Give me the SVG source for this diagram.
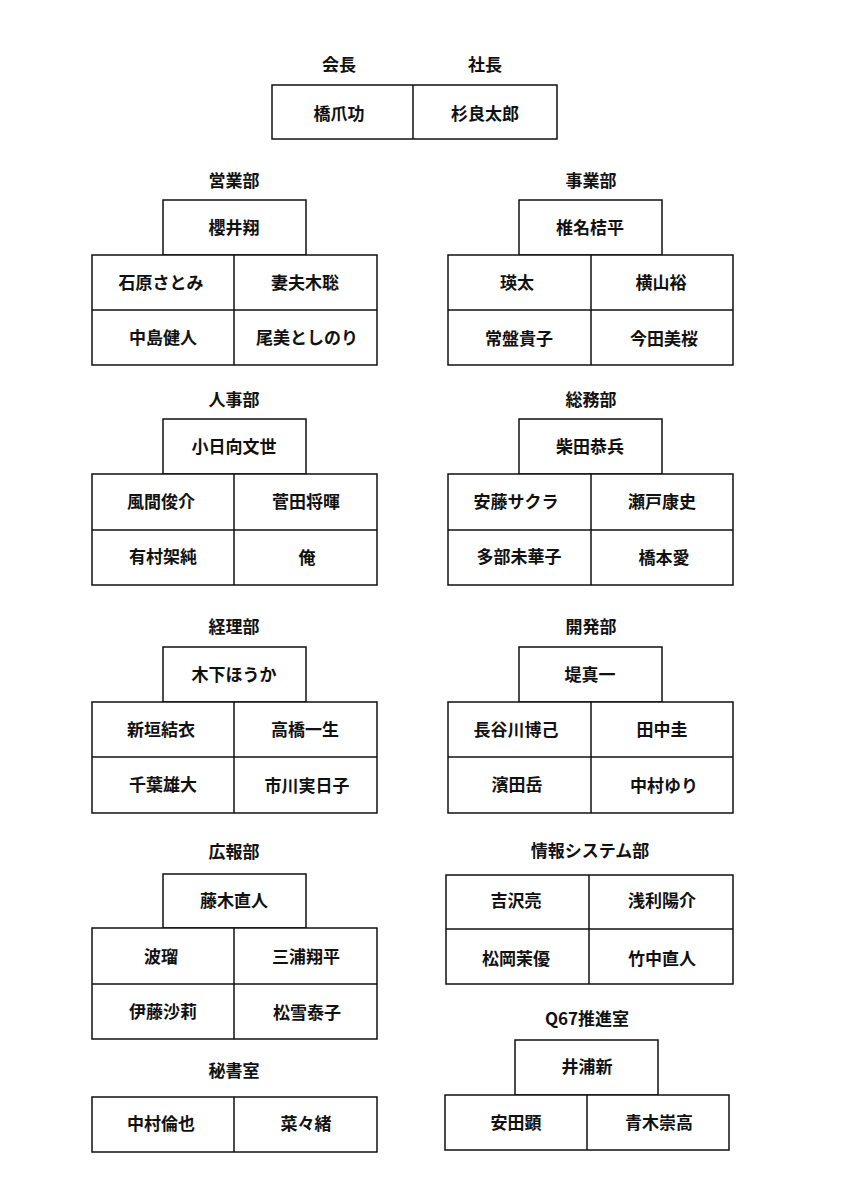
<svg xmlns="http://www.w3.org/2000/svg" width="849" height="1200" viewBox="0 0 849 1200">
<style>
rect{fill:#fff;stroke:#111;stroke-width:1.5}
line{stroke:#111;stroke-width:1.5}
text{font-family:"Noto Sans CJK JP","Noto Sans",sans-serif;font-weight:bold;font-size:17px;fill:#111;text-anchor:middle;dominant-baseline:central}
</style>
<rect width="849" height="1200" style="fill:#fff;stroke:none"/>
<g id="top" transform="translate(0,-1)">
<text x="339" y="64">会長</text><text x="485" y="64">社長</text>
<rect x="272" y="86" width="285" height="54"/><line x1="413" y1="86" x2="413" y2="140"/>
<text x="339" y="113">橋爪功</text><text x="485" y="113">杉良太郎</text>
</g>
<g id="eigyo">
<text x="234" y="179">営業部</text>
<rect x="163" y="200" width="143" height="55"/><text x="234" y="226">櫻井翔</text>
<rect x="92" y="255" width="285" height="110"/><line x1="92" y1="310" x2="377" y2="310"/><line x1="234" y1="255" x2="234" y2="365"/>
<text x="161" y="281">石原さとみ</text><text x="305" y="281">妻夫木聡</text>
<text x="163" y="336">中島健人</text><text x="307" y="336">尾美としのり</text>
</g>
<g id="jigyo">
<text x="591" y="179">事業部</text>
<rect x="519" y="200" width="143" height="55"/><text x="590" y="226">椎名桔平</text>
<rect x="448" y="255" width="285" height="110"/><line x1="448" y1="310" x2="733" y2="310"/><line x1="591" y1="255" x2="591" y2="365"/>
<text x="517" y="281">瑛太</text><text x="661" y="281">横山裕</text>
<text x="519" y="337">常盤貴子</text><text x="664" y="337">今田美桜</text>
</g>
<g id="jinji">
<text x="234" y="398">人事部</text>
<rect x="163" y="419" width="143" height="55"/><text x="234" y="445">小日向文世</text>
<rect x="92" y="474" width="285" height="111"/><line x1="92" y1="530" x2="377" y2="530"/><line x1="234" y1="474" x2="234" y2="585"/>
<text x="161" y="500">風間俊介</text><text x="306" y="500">菅田将暉</text>
<text x="163" y="555">有村架純</text><text x="307" y="556">俺</text>
</g>
<g id="somu">
<text x="591" y="398">総務部</text>
<rect x="519" y="419" width="143" height="55"/><text x="590" y="445">柴田恭兵</text>
<rect x="448" y="474" width="285" height="111"/><line x1="448" y1="530" x2="733" y2="530"/><line x1="591" y1="474" x2="591" y2="585"/>
<text x="516" y="500">安藤サクラ</text><text x="662" y="500">瀬戸康史</text>
<text x="519" y="555">多部未華子</text><text x="664" y="556">橋本愛</text>
</g>
<g id="keiri">
<text x="234" y="625">経理部</text>
<rect x="163" y="647" width="143" height="55"/><text x="234" y="673">木下ほうか</text>
<rect x="92" y="702" width="285" height="111"/><line x1="92" y1="757" x2="377" y2="757"/><line x1="234" y1="702" x2="234" y2="813"/>
<text x="161" y="728">新垣結衣</text><text x="305" y="728">高橋一生</text>
<text x="163" y="783">千葉雄大</text><text x="307" y="784">市川実日子</text>
</g>
<g id="kaihatsu">
<text x="591" y="625">開発部</text>
<rect x="519" y="647" width="143" height="55"/><text x="590" y="673">堤真一</text>
<rect x="448" y="702" width="285" height="111"/><line x1="448" y1="757" x2="733" y2="757"/><line x1="591" y1="702" x2="591" y2="813"/>
<text x="516" y="728">長谷川博己</text><text x="662" y="728">田中圭</text>
<text x="517" y="783">濱田岳</text><text x="664" y="784">中村ゆり</text>
</g>
<g id="koho">
<text x="234" y="850">広報部</text>
<rect x="163" y="874" width="143" height="54"/><text x="234" y="899">藤木直人</text>
<rect x="92" y="928" width="285" height="111"/><line x1="92" y1="984" x2="377" y2="984"/><line x1="234" y1="928" x2="234" y2="1039"/>
<text x="161" y="955">波瑠</text><text x="306" y="955">三浦翔平</text>
<text x="163" y="1010">伊藤沙莉</text><text x="307" y="1011">松雪泰子</text>
</g>
<g id="joho">
<text x="590" y="849">情報システム部</text>
<rect x="446" y="875" width="287" height="109"/><line x1="446" y1="929" x2="733" y2="929"/><line x1="589" y1="875" x2="589" y2="984"/>
<text x="516" y="899">吉沢亮</text><text x="662" y="899">浅利陽介</text>
<text x="516" y="957">松岡茉優</text><text x="662" y="957">竹中直人</text>
</g>
<g id="hisho">
<text x="234" y="1069">秘書室</text>
<rect x="92" y="1097" width="285" height="55"/><line x1="234" y1="1097" x2="234" y2="1152"/>
<text x="161" y="1122">中村倫也</text><text x="306" y="1122">菜々緒</text>
</g>
<g id="q67">
<text x="587" y="1017">Q67推進室</text>
<rect x="515" y="1040" width="143" height="55"/><text x="587" y="1065">井浦新</text>
<rect x="445" y="1095" width="284" height="55"/><line x1="587" y1="1095" x2="587" y2="1150"/>
<text x="516" y="1121">安田顕</text><text x="659" y="1121">青木崇高</text>
</g>
<g id="connectors"></g>
</svg>
